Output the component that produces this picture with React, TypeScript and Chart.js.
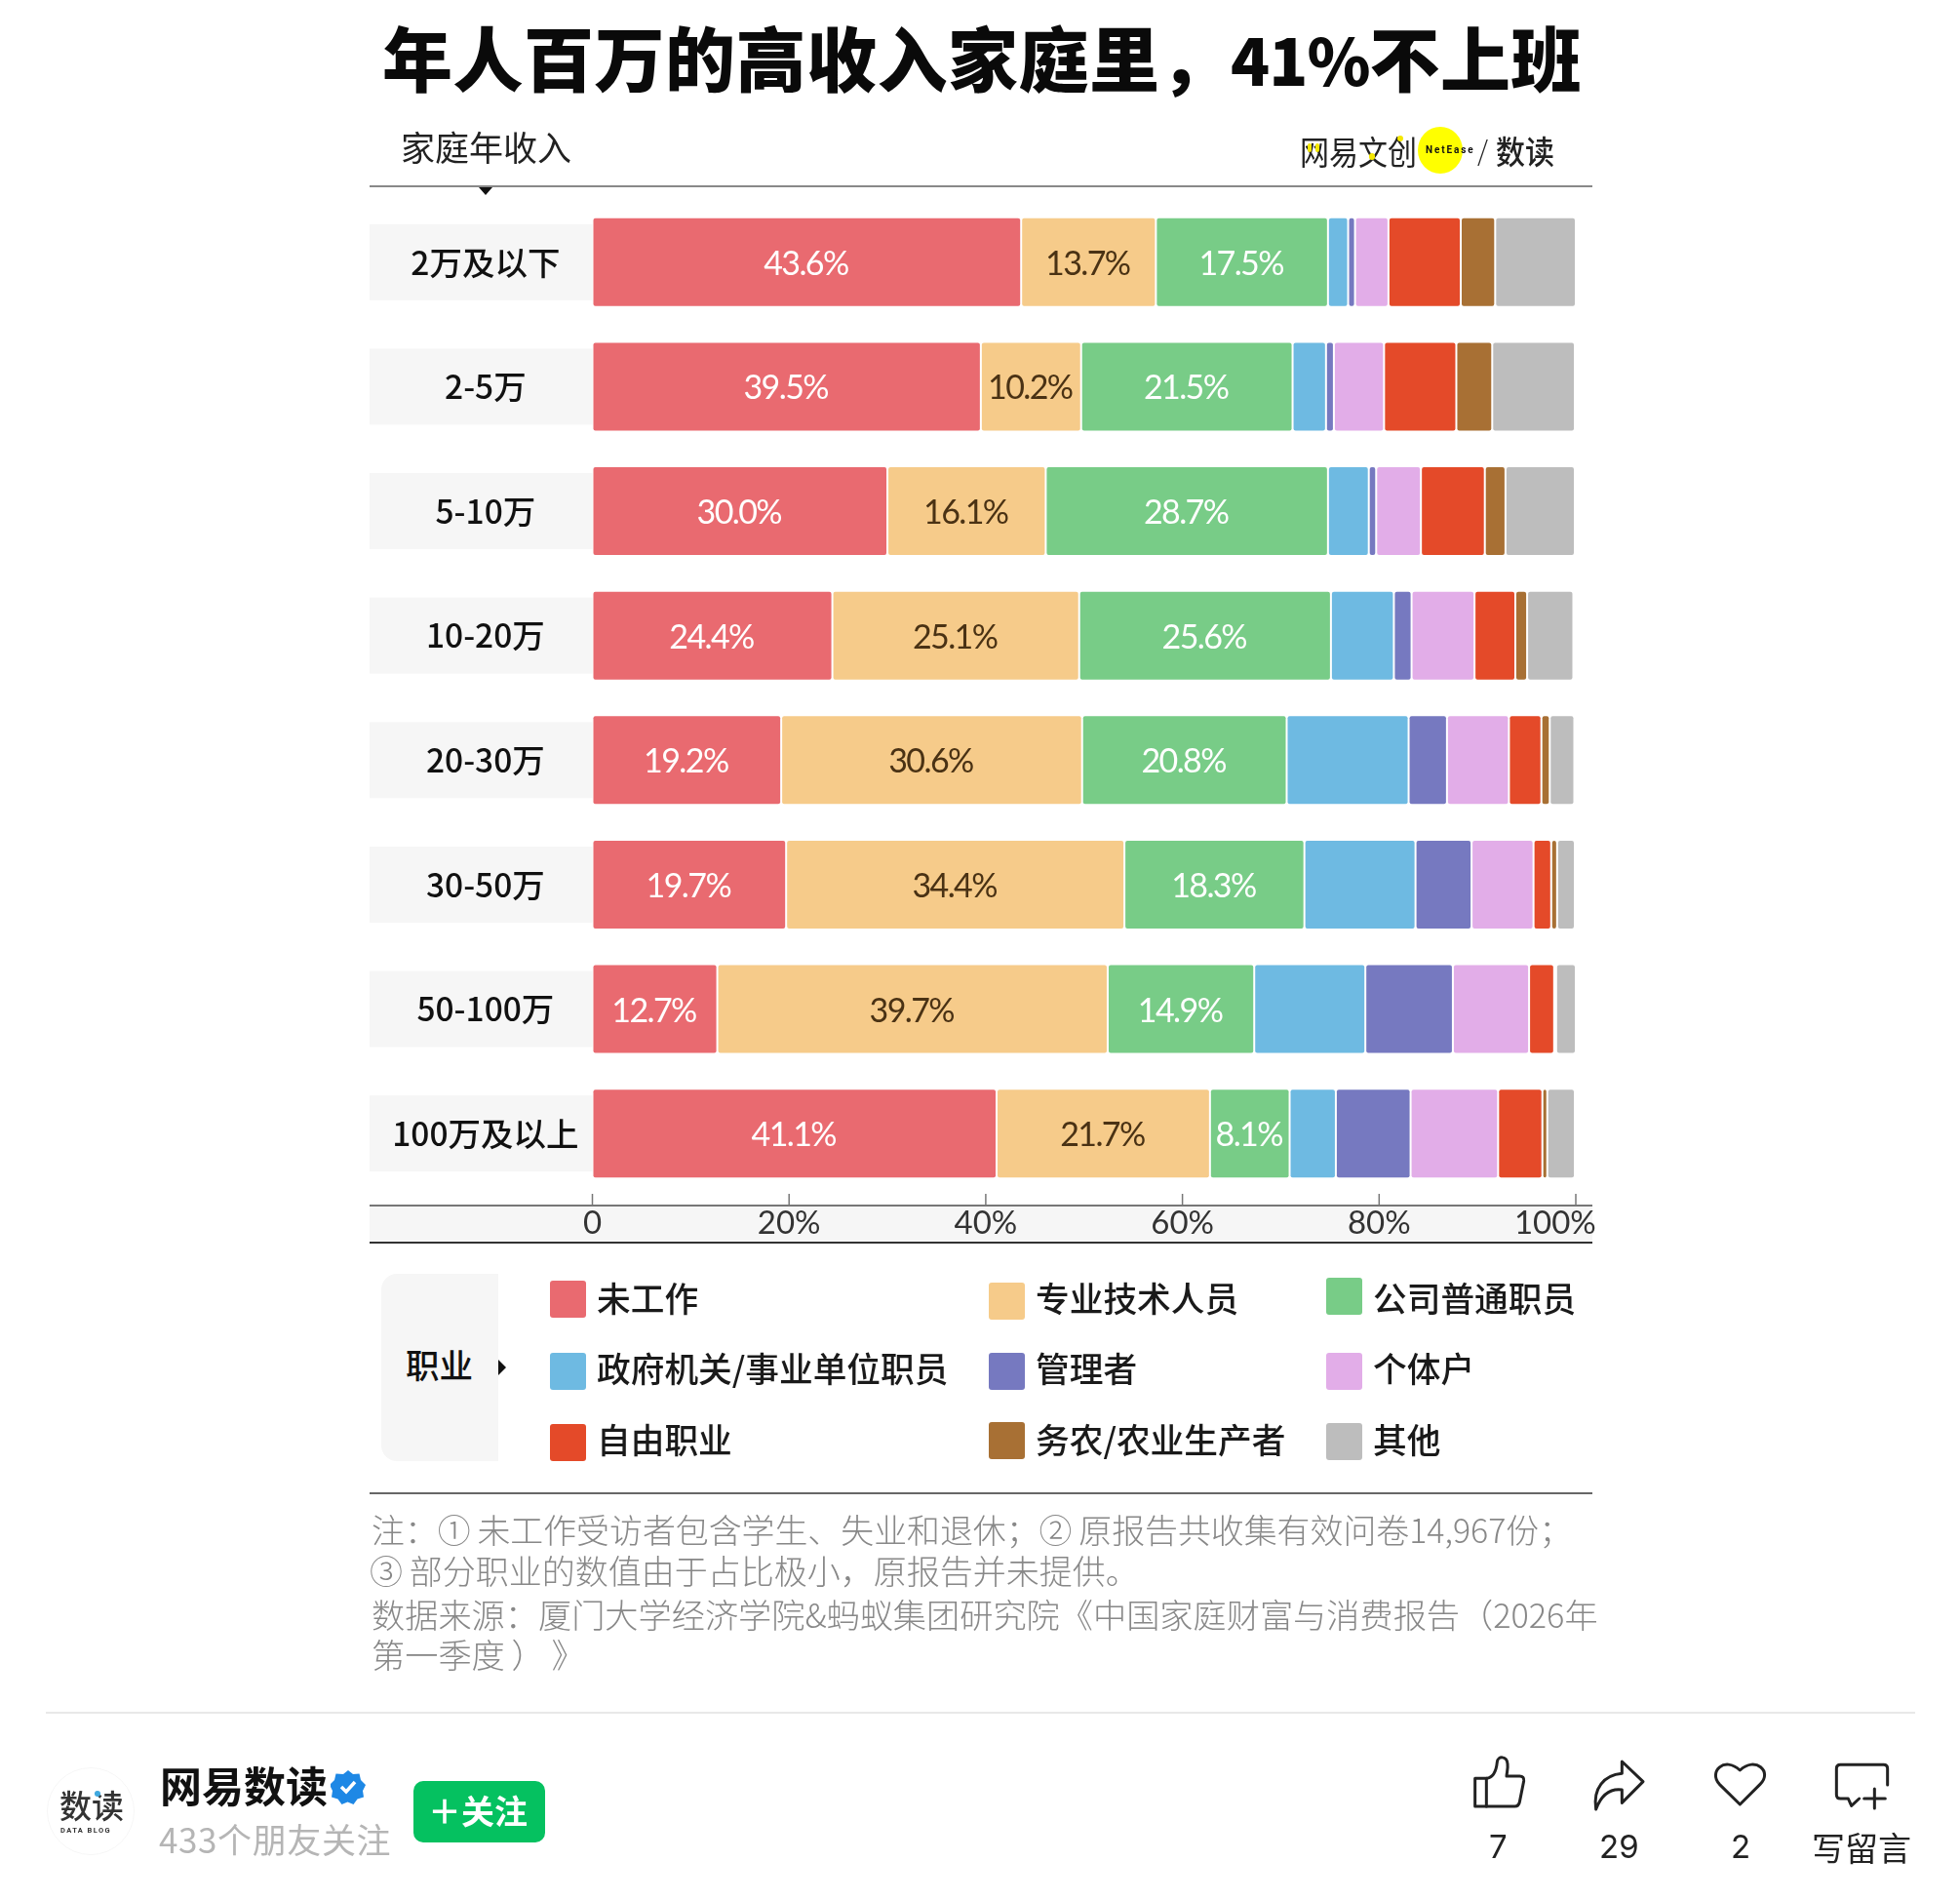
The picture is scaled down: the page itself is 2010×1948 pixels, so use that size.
import { useEffect, useRef, ReactNode } from "react";
import { Chart, registerables } from "chart.js";

Chart.register(...registerables);

const CJK = '"Noto Sans CJK SC", "Noto Sans", sans-serif';

const incomeGroups = ["2万及以下", "2-5万", "5-10万", "10-20万", "20-30万", "30-50万", "50-100万", "100万及以上"];
const occupations = ["未工作", "专业技术人员", "公司普通职员", "政府机关/事业单位职员", "管理者", "个体户", "自由职业", "务农/农业生产者", "其他"];
const occupationColors = ["#E96A70", "#F6CB8A", "#78CC87", "#6EBAE2", "#7679C0", "#E2ADE8", "#E44A29", "#A87034", "#BDBDBD"];

const notWorking = [43.6, 39.5, 30.0, 24.4, 19.2, 19.7, 12.7, 41.1];
const professional = [13.7, 10.2, 16.1, 25.1, 30.6, 34.4, 39.7, 21.7];
const clerks = [17.5, 21.5, 28.7, 25.6, 20.8, 18.3, 14.9, 8.1];
const government = [2.05, 3.4, 4.15, 6.4, 12.4, 11.3, 11.3, 4.7];
const managers = [0.7, 0.8, 0.75, 1.8, 3.9, 5.7, 8.9, 7.6];
const selfEmployed = [3.4, 5.1, 4.55, 6.4, 6.3, 6.3, 7.75, 8.9];
const freelance = [7.35, 7.35, 6.5, 4.15, 3.3, 1.8, 2.55, 4.5];
const farming = [3.5, 3.65, 2.1, 1.2, 0.85, 0.6, 0.2, 0.5];
const other = [8.2, 8.4, 7.05, 4.7, 2.5, 1.8, 2.0, 2.8];
const seriesValues = [notWorking, professional, clerks, government, managers, selfEmployed, freelance, farming, other];

const xTicks = [0, 20, 40, 60, 80, 100];

// bands, tick marks and row backgrounds behind the bars
const decorPlugin = {
  id: "decor",
  beforeDraw(chart: any) {
    const { ctx, scales, chartArea } = chart;
    const y = scales.y;
    const x = scales.x;
    ctx.save();
    ctx.fillStyle = "#f6f6f6";
    incomeGroups.forEach((_, i) => {
      ctx.fillRect(379, y.getPixelForValue(i) - 39, chartArea.left - 379, 78);
    });
    const lineY = 1236;
    ctx.fillRect(379, lineY, 1254, 38);
    ctx.fillStyle = "#777";
    ctx.fillRect(379, lineY - 1, 1254, 2);
    ctx.fillStyle = "#333";
    ctx.fillRect(379, lineY + 37, 1254, 2);
    ctx.strokeStyle = "#777";
    ctx.lineWidth = 1.5;
    xTicks.forEach((t) => {
      const px = x.getPixelForValue(t);
      ctx.beginPath();
      ctx.moveTo(px, lineY - 12);
      ctx.lineTo(px, lineY);
      ctx.stroke();
    });
    ctx.restore();
  },
};

// percent labels on the first three series only
const valueLabelPlugin = {
  id: "valueLabels",
  afterDatasetsDraw(chart: any) {
    const { ctx } = chart;
    ctx.save();
    ctx.font = "34px Lato, sans-serif";
    ctx.letterSpacing = "-1.6px";
    ctx.textAlign = "center";
    ctx.textBaseline = "middle";
    [0, 1, 2].forEach((d) => {
      const meta = chart.getDatasetMeta(d);
      ctx.fillStyle = d === 1 ? "#4a3214" : "#ffffff";
      meta.data.forEach((bar: any, i: number) => {
        const c = bar.getCenterPoint();
        ctx.fillText(seriesValues[d][i].toFixed(1) + "%", c.x - 1, c.y + 2);
      });
    });
    ctx.restore();
  },
};

const IncomeChart = () => {
  const ref = useRef<HTMLCanvasElement>(null);

  useEffect(() => {
    if (!ref.current) return;
    const chart = new Chart(ref.current, {
      type: "bar",
      data: {
        labels: incomeGroups,
        datasets: occupations.map((name, i) => ({
          label: name,
          data: seriesValues[i],
          backgroundColor: occupationColors[i],
          borderColor: "#ffffff",
          borderWidth: 1,
          borderSkipped: false,
          inflateAmount: 0,
          borderRadius: { topLeft: 3, topRight: 3, bottomLeft: 3, bottomRight: 3 },
          barPercentage: 0.72,
          categoryPercentage: 1,
        })),
      },
      options: {
        indexAxis: "y",
        responsive: false,
        animation: false,
        devicePixelRatio: 1,
        layout: { padding: { left: 379, right: 394, top: 205, bottom: 674 } },
        plugins: { legend: { display: false }, tooltip: { enabled: false } },
        scales: {
          x: {
            stacked: true,
            min: 0,
            max: 100,
            afterFit: (s: any) => { s.height = 48; },
            afterBuildTicks: (s: any) => { s.ticks = xTicks.map((value) => ({ value })); },
            border: { display: false },
            grid: { display: false, drawTicks: false },
            ticks: {
              maxRotation: 0,
              autoSkip: false,
              padding: 9,
              color: "#333",
              font: { family: "Lato, sans-serif", size: 33 },
              callback: (v: any) =>
                v === 0 ? "0" : v === 100 ? "100%\u00A0\u00A0\u00A0\u00A0\u00A0" : v + "%",
            },
          },
          y: {
            stacked: true,
            afterFit: (s: any) => { s.width = 228.5; },
            border: { display: false },
            grid: { display: false, drawTicks: false },
            ticks: {
              padding: 14,
              crossAlign: "center",
              color: "#111",
              font: { family: CJK, size: 33.5, weight: 500 },
            },
          },
        },
      },
      plugins: [decorPlugin, valueLabelPlugin],
    } as any);
    return () => chart.destroy();
  }, []);

  return <canvas ref={ref} width={2010} height={1948} style={{ position: "absolute", left: 0, top: 0 }} />;
};

interface TxtProps {
  x: number;
  y: number;
  size: number;
  color?: string;
  weight?: number;
  font?: string;
  spacing?: number;
  stretch?: number;
  children: ReactNode;
}

const Txt = ({ x, y, size, color = "#111", weight = 400, font = CJK, spacing = 0, stretch = 1, children }: TxtProps) => (
  <div
    style={{
      position: "absolute",
      left: x,
      top: y,
      transform: `translateY(-50%) scaleY(${stretch})`,
      fontSize: size,
      color,
      fontWeight: weight,
      fontFamily: font,
      letterSpacing: spacing,
      whiteSpace: "nowrap",
      lineHeight: 1.2,
    }}
  >
    {children}
  </div>
);

const Box = ({ x, y, w, h, style }: { x: number; y: number; w: number; h: number; style: any }) => (
  <div style={{ position: "absolute", left: x, top: y, width: w, height: h, ...style }} />
);

const legendX = [564, 1014, 1360];
const legendTextY = [1330.5, 1403, 1476];
const legendSwatchTop = [1313, 1315, 1310, 1387, 1387, 1387, 1460, 1458, 1459];

const Legend = () => (
  <>
    <Box x={391} y={1306} w={120} h={192} style={{ background: "#f6f6f6", borderRadius: "16px 0 0 16px" }} />
    <Txt x={416} y={1398.5} size={34.5} weight={500}>职业</Txt>
    <Box x={511} y={1394} w={0} h={0} style={{ borderLeft: "8px solid #111", borderTop: "8px solid transparent", borderBottom: "8px solid transparent" }} />
    {occupations.map((name, i) => {
      const col = i % 3;
      const row = Math.floor(i / 3);
      return (
        <div key={name}>
          <Box
            x={legendX[col]}
            y={legendSwatchTop[i]}
            w={37}
            h={38}
            style={{ background: occupationColors[i], borderRadius: 3 }}
          />
          <Txt x={legendX[col] + 48} y={legendTextY[row]} size={34.7} weight={500} color="#1a1a1a">{name}</Txt>
        </div>
      );
    })}
  </>
);

const Footer = () => (
  <>
    <Box x={47} y={1755} w={1917} h={2} style={{ background: "#e8e8e8" }} />
    <Box x={48} y={1812} w={90} h={90} style={{ borderRadius: "50%", border: "1px solid #f6f6f6", boxSizing: "border-box" }} />
    <Txt x={61} y={1851} size={33} weight={500} color="#333">数读</Txt>
    <Box x={97} y={1836} w={6} h={6} style={{ borderRadius: "50%", background: "#3FA9E0" }} />
    <Txt x={62} y={1875.5} size={7.5} weight={700} color="#333" spacing={1.4} font="Roboto">DATA BLOG</Txt>
    <Txt x={164} y={1829.5} size={43} weight={700}>网易数读</Txt>
    <svg style={{ position: "absolute", left: 339, top: 1814 }} width={36} height={36} viewBox="0 0 36 36">
      <path d="M18 1l5 4 6.500-.5 1.500 6.500 5 5-3 6 1 6.500-6.500 2-4 5.500-6-2.500-6 2.500-4-5.500-6.500-2 1-6.500-3-6 5-5 1.500-6.500L13 5z" fill="#1E88E5" />
      <path d="M11 18l5 5 9-10" stroke="#fff" strokeWidth={3.5} fill="none" />
    </svg>
    <Txt x={163} y={1885} size={35} color="#b5b5b5" spacing={0.6}>433个朋友关注</Txt>
    <Box x={424} y={1826} w={135} h={63} style={{ background: "#05C160", borderRadius: 10 }} />
    <Txt x={439} y={1856} size={34} weight={700} color="#fff">＋关注</Txt>

    <svg
      style={{ position: "absolute", left: 1490, top: 1790 }}
      width={480}
      height={130}
      viewBox="0 0 1440 390"
      fill="none"
      stroke="#222"
      strokeWidth={9}
      strokeLinejoin="round"
      strokeLinecap="round"
    >
      <path d="M68 100h35v86H68z" />
      <path d="M103 100c20-2 30-20 33-50 2-20 30-20 32 5 2 15-2 25-3 38h40c10 0 14 5 13 15l-13 65c-2 10-6 13-15 13H103" />
      <path d="M520 48l65 62-65 65v-40c-40-5-65 20-80 60-10-65 25-105 80-110z" />
      <path d="M883 180l-63-62c-35-38 15-88 63-43 47-45 102 5 62 43z" />
      <path d="M1337 120V70c0-8-4-12-12-12H1192c-8 0-12 4-12 12v80c0 8 4 12 12 12h24l10 22 24-22" />
      <path d="M1265 162h65M1297 132v60" />
    </svg>
    <Txt x={1527} y={1894} size={33} font="Inter, sans-serif" color="#222">7</Txt>
    <Txt x={1640} y={1894} size={33} font="Inter, sans-serif" color="#222">29</Txt>
    <Txt x={1775} y={1894} size={33} font="Inter, sans-serif" color="#222">2</Txt>
    <Txt x={1858} y={1894} size={34} color="#222">写留言</Txt>
  </>
);

const App = () => (
  <div style={{ position: "relative", width: 2010, height: 1948, background: "#fff", overflow: "hidden" }}>
    <style>{"body{margin:0}"}</style>
    <IncomeChart />
    <Txt x={392} y={57} size={72} weight={900} color="#0a0a0a" spacing={0.5}>
      年人百万的高收入家庭里，<span style={{ fontSize: 66, letterSpacing: -1 }}>41%</span>不上班
    </Txt>
    <Txt x={411} y={149.500} size={35} color="#222">家庭年收入</Txt>

    <Box x={1454} y={130} w={46} h={48} style={{ background: "#FFFF00", borderRadius: "50%" }} />
    <Txt x={1333} y={154} size={30} color="#222" stretch={1.12}>网易文创</Txt>
    <Box x={1341} y={147} w={4} h={9} style={{ background: "#F5E800", borderRadius: 2 }} />
    <Box x={1349} y={147} w={4} h={9} style={{ background: "#F5E800", borderRadius: 2 }} />
    <Box x={1404} y={157} w={6} h={7} style={{ background: "#F5E800", borderRadius: 3 }} />
    <Box x={1433} y={139} w={6} h={6} style={{ background: "#F5E800", borderRadius: 3 }} />
    <Txt x={1462} y={154} size={10} weight={700} font="Roboto" spacing={1.9}>NetEase</Txt>
    <Txt x={1515} y={154} size={28} weight={300} color="#222">/</Txt>
    <Txt x={1534} y={154} size={30} weight={500} color="#222" stretch={1.08}>数读</Txt>
    <Box x={379} y={190} w={1254} h={2} style={{ background: "#888" }} />
    <Box x={491} y={192} w={0} h={0} style={{ borderLeft: "7px solid transparent", borderRight: "7px solid transparent", borderTop: "8px solid #111" }} />

    <Legend />

    <Box x={379} y={1530} w={1254} h={2} style={{ background: "#666" }} />
    <Txt x={381} y={1568} size={33.9} weight={300} color="#888">注：①&#8201;未工作受访者包含学生、失业和退休；②&#8201;原报告共收集有效问卷14,967份；</Txt>
    <Txt x={379} y={1610} size={34} weight={300} color="#888">③&#8201;部分职业的数值由于占比极小，原报告并未提供。</Txt>
    <Txt x={381} y={1655} size={34.2} weight={300} color="#888">数据来源：厦门大学经济学院&蚂蚁集团研究院《中国家庭财富与消费报告（2026年</Txt>
    <Txt x={381} y={1696} size={34.2} weight={300} color="#888">第一季度&#8201;）&#8201;》</Txt>

    <Footer />
  </div>
);

export default App;
